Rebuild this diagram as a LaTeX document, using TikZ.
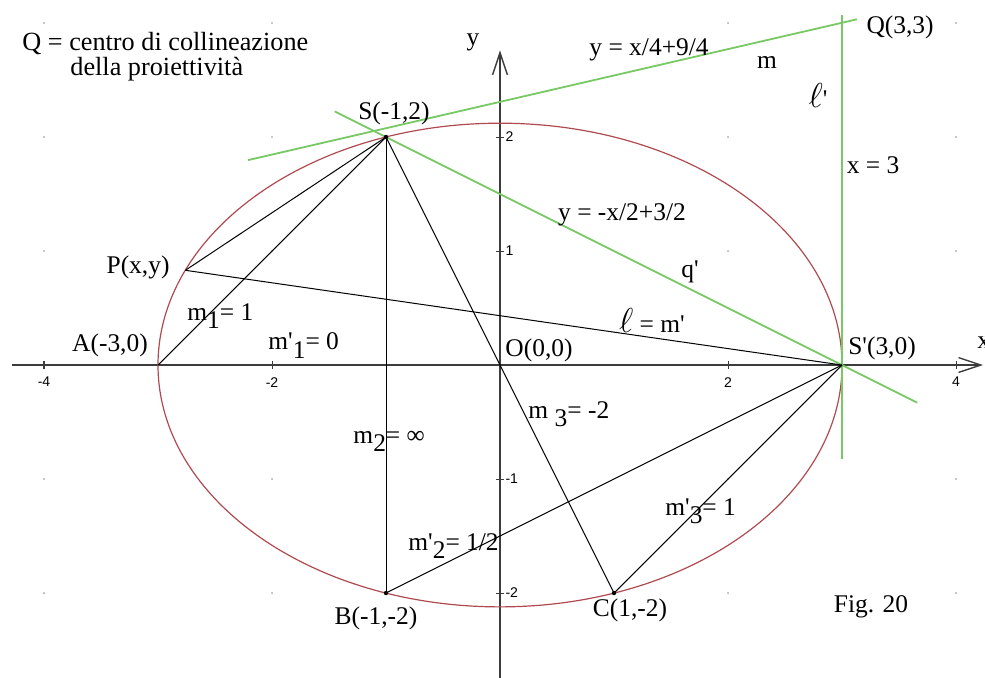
\documentclass[tikz,border=0pt]{standalone}
\usepackage{fontspec}
\setmainfont{Liberation Serif}
\newfontfamily\ticksf{Liberation Sans}
\usetikzlibrary{arrows.meta,positioning}

\definecolor{lgreen}{RGB}{120,200,100}
\definecolor{conicred}{RGB}{175,75,80}
\definecolor{axisgray}{RGB}{60,60,60}
\newcommand{\lo}[1]{\raisebox{-0.7ex}{#1}}
\newcommand{\pr}{\textquotesingle}
\newcommand{\bigell}{{\fontsize{17}{20}\selectfont$\ell$}}

\begin{document}
\begin{tikzpicture}[x=2cm,y=2cm,
    lbl/.style={font=\fontsize{12.7}{15}\selectfont,inner sep=0pt},
    tlbl/.style={font=\ticksf\fontsize{7}{8}\selectfont,inner sep=0pt},
    axis/.style={draw=axisgray,line width=0.7pt},
    segm/.style={line width=0.5pt},
    greenline/.style={draw=lgreen,line width=0.9pt},
    conic/.style={draw=conicred,line width=0.6pt},
    pt/.style={circle,fill=black,inner sep=0pt,minimum size=2.2pt}]
    \useasboundingbox (-4.386,-2.737) rectangle (4.254,3.202);
    % points
    \coordinate (O) at (0,0);
    \coordinate (S) at (-1,2);
    \coordinate (Sp) at (3,0);
    \coordinate (A) at (-3,0);
    \coordinate (B) at (-1,-2);
    \coordinate (C) at (1,-2);
    \coordinate (Q) at (3,3);
    \coordinate (P) at (-2.76,0.831);
    % grid dots
    \foreach \x in {-4,-2,2,4}
        \foreach \y in {-2,-1,1,2,3}
            \fill[gray!55] (\x,\y) circle (0.6pt);
    % axes
    \coordinate (xl) at (-4.28,0);
    \coordinate (xr) at (4.237,0);
    \coordinate (yb) at (0,-2.75);
    \coordinate (yt) at (0,2.76);
    \draw[axis,-{Straight Barb[length=3.9mm,width=2.6mm]}] (xl) -- (xr);
    \draw[axis,-{Straight Barb[length=3.9mm,width=2.6mm]}] (yb) -- (yt);
    \foreach \x in {-4,-2,2,4} {
        \draw[axis,line width=0.5pt] (\x,-0.035) -- (\x,0.035);
        \node[tlbl] (tx\x) at (\x,-0.15) {\x};
    }
    \foreach \y in {-2,-1,1,2} {
        \draw[axis,line width=0.5pt] (-0.035,\y) -- (0.035,\y);
        \node[tlbl,anchor=west] (ty\y) at (0.045,\y) {\y};
    }
    \node[lbl] (ylab) at (-0.237,2.833) {y};
    \node[lbl,anchor=west] (xlab) at (4.184,0.2) {x};
    % conic
    \draw[conic] (O) ellipse (3 and 2.1213);
    % green lines
    \coordinate (m0) at (-2.21,1.7975);
    \coordinate (m1) at (3.13,3.0325);
    \coordinate (q0) at (-1.45,2.225);
    \coordinate (q1) at (3.66,-0.33);
    \coordinate (l0) at (3,-0.82);
    \coordinate (l1) at (3,3.07);
    \draw[greenline] (m0) -- (m1);
    \draw[greenline] (q0) -- (q1);
    \draw[greenline] (l0) -- (l1);
    % black segments
    \draw[segm] (A) -- (S);
    \draw[segm] (P) -- (S);
    \draw[segm] (P) -- (Sp);
    \draw[segm] (S) -- (B);
    \draw[segm] (S) -- (C);
    \draw[segm] (B) -- (Sp);
    \draw[segm] (C) -- (Sp);
    \node[pt] (dS) at (S) {};
    \node[pt] (dB) at (B) {};
    \node[pt] (dC) at (C) {};
    % labels
    \node[lbl,anchor=base west,font=\fontsize{13.1}{15}\selectfont] (title) at (-4.193,2.763) {Q = centro di collineazione};
    \node[lbl,anchor=base west,font=\fontsize{13.1}{15}\selectfont] (title2) at (-3.772,2.544) {della proiettività};
    \node[lbl] (eqm) at (1.307,2.763) {y = x/4+9/4};
    \node[lbl] (mlab) at (2.342,2.658) {m};
    \node[lbl] (Qlab) at (3.509,2.965) {Q(3,3)};
    \node[lbl] (lplab) at (2.789,2.368) {\bigell\pr};
    \node[lbl] (x3lab) at (3.272,1.754) {x = 3};
    \node[lbl] (Slab) at (-0.93,2.211) {S(-1,2)};
    \node[lbl] (eqq) at (1.07,1.316) {y = -x/2+3/2};
    \node[lbl] (Plab) at (-3.175,0.86) {P(x,y)};
    \node[lbl,anchor=base west] (m1lab) at (-2.746,0.395) {m\lo{1}= 1};
    \node[lbl] (Alab) at (-3.421,0.175) {A(-3,0)};
    \node[lbl,anchor=base west] (mp1lab) at (-2.035,0.132) {m\pr\lo{1}= 0};
    \node[lbl] (Olab) at (0.342,0.132) {O(0,0)};
    \node[lbl] (llab) at (1.333,0.395) {\bigell{} = m\pr};
    \node[lbl] (qplab) at (1.667,0.816) {q\pr};
    \node[lbl] (Splab) at (3.351,0.149) {S\pr(3,0)};
    \node[lbl,anchor=base west] (m2lab) at (-1.289,-0.684) {m\lo{2}= ∞};
    \node[lbl,anchor=base west] (m3lab) at (0.246,-0.465) {m \lo{3}= -2};
    \node[lbl,anchor=base west] (mp2lab) at (-0.807,-1.623) {m\pr\lo{2}= 1/2};
    \node[lbl,anchor=base west] (mp3lab) at (1.447,-1.316) {m\pr\lo{3}= 1};
    \node[lbl] (Blab) at (-1.088,-2.219) {B(-1,-2)};
    \node[lbl] (Clab) at (1.14,-2.149) {C(1,-2)};
    \node[lbl] (figlab) at (3.254,-2.123) {Fig. 20};
\end{tikzpicture}
\end{document}
